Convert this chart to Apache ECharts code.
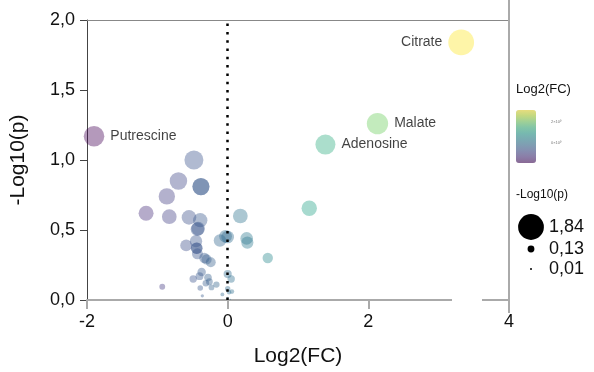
<!DOCTYPE html>
<html>
<head>
<meta charset="utf-8">
<script src="https://cdn.jsdelivr.net/npm/echarts@6/dist/echarts.min.js"></script>
<style>
  html, body { margin: 0; padding: 0; background: #fff; }
  #chart { width: 594px; height: 372px; }
</style>
</head>
<body>
<div id="chart"></div>
<script>
// metabolite volcano data: log2 fold change, -log10(p)
const names = ['Citrate', 'Malate', 'Adenosine', 'Putrescine'];
const labelFc = [3.32, 2.13, 1.39, -1.90];
const labelP = [1.84, 1.26, 1.11, 1.17];
const labelPos = ['left', 'right', 'right', 'right'];

const otherFc = [
    1.16, 0.57, -0.48, -0.70, -0.38, -0.38, -0.865, -1.16, -0.83, -0.55,
    -0.39, -0.42, -0.43, 0.18, 0.27, 0.28, -0.11, -0.03, 0.0, -0.59,
    -0.45, -0.44, -0.44, -0.43, -0.33, -0.30, -0.24, -0.37, -0.40, -0.49,
    -0.28, -0.26, -0.31, -0.16, -0.23, -0.39, -0.93, -0.36, -0.075, 0.0,
    0.05, 0.0, 0.02, 0.06, 0.0, 0.04
];
const otherP = [
    0.655, 0.30, 1.00, 0.85, 0.81, 0.81, 0.74, 0.62, 0.595, 0.59,
    0.57, 0.51, 0.505, 0.60, 0.44, 0.41, 0.425, 0.455, 0.45, 0.39,
    0.42, 0.37, 0.37, 0.33, 0.30, 0.29, 0.27, 0.20, 0.17, 0.15,
    0.16, 0.13, 0.12, 0.11, 0.09, 0.085, 0.095, 0.03, 0.04, 0.185,
    0.15, 0.08, 0.055, 0.06, 0.015, 0.005
];

const xTicks = [-2, 0, 2, 4];
const yTicks = [0, 0.5, 1.0, 1.5, 2.0];
const sizeLegend = [1.84, 0.13, 0.01];

// viridis, semi-transparent
const ALPHA = 0.5;
const viridis = ['#440154', '#482878', '#3e4989', '#31688e', '#26828e',
    '#1f9e89', '#35b779', '#6ece58', '#b5de2b', '#fde725'];
const rgba = (hex) => {
    const n = parseInt(hex.slice(1), 16);
    return `rgba(${n >> 16},${(n >> 8) & 255},${n & 255},${ALPHA})`;
};

const sizeOf = (p) => 19 * Math.sqrt(p);
const comma = (v, d) => v.toFixed(d).replace('.', ',');
const FONT = 'Liberation Sans';

const data = [];
otherFc.forEach((x, i) => data.push({ value: [x, otherP[i]] }));
names.forEach((n, i) => data.push({
    name: n,
    value: [labelFc[i], labelP[i]],
    label: { show: true, position: labelPos[i], formatter: n, distance: 6 }
}));

const chart = echarts.init(document.getElementById('chart'), null, { renderer: 'canvas' });

const legendX = 531;
const legendY = [227, 249, 269];
const graphics = [
    { type: 'line', z: 10, shape: { x1: 509, y1: 0, x2: 509, y2: 313 }, style: { stroke: '#aaa', lineWidth: 2 } },
    { type: 'rect', z: 10, shape: { x: 452, y: 297, width: 30, height: 8 }, style: { fill: '#fff' } },
    { type: 'text', z: 10, left: 516, top: 83, style: { text: 'Log2(FC)', font: `13px "${FONT}"`, fill: '#111' } },
    { type: 'text', z: 10, left: 551, top: 120, style: { text: '2×10⁰', font: `4px "${FONT}"`, fill: '#777' } },
    { type: 'text', z: 10, left: 551, top: 141, style: { text: '0×10⁰', font: `4px "${FONT}"`, fill: '#777' } },
    { type: 'text', z: 10, left: 516, top: 189, style: { text: '-Log10(p)', font: `12px "${FONT}"`, fill: '#111' } }
];
sizeLegend.forEach((v, i) => {
    graphics.push({ type: 'circle', z: 10, shape: { cx: legendX, cy: legendY[i], r: Math.max(sizeOf(v) / 2, 1) }, style: { fill: '#000' } });
    graphics.push({ type: 'text', z: 10, x: 549, y: legendY[i], style: { text: comma(v, 2), font: `18px "${FONT}"`, fill: '#111', verticalAlign: 'middle' } });
});

chart.setOption({
    animation: false,
    backgroundColor: '#fff',
    textStyle: { fontFamily: FONT },
    grid: { left: 85, right: 85, top: 20, bottom: 71 },
    xAxis: [{
        type: 'value',
        min: xTicks[0], max: xTicks[xTicks.length - 1], interval: 2,
        name: 'Log2(FC)', nameLocation: 'middle', nameGap: 46,
        nameTextStyle: { fontSize: 21, color: '#111', fontFamily: FONT },
        axisLine: { show: true, onZero: false, lineStyle: { color: '#aaa', width: 2 } },
        axisTick: { show: true, length: 9, lineStyle: { color: '#aaa', width: 2 } },
        axisLabel: { fontSize: 18, color: '#111', margin: 13, fontFamily: FONT },
        splitLine: { show: false }
    }, {
        type: 'value', position: 'top',
        min: xTicks[0], max: xTicks[xTicks.length - 1],
        axisLine: { show: true, onZero: false, lineStyle: { color: '#888', width: 1 } },
        axisTick: { show: false }, axisLabel: { show: false }, splitLine: { show: false }
    }],
    yAxis: {
        type: 'value',
        min: yTicks[0], max: yTicks[yTicks.length - 1], interval: 0.5,
        name: '-Log10(p)', nameLocation: 'middle', nameGap: 58, nameRotate: 90,
        nameTextStyle: { fontSize: 21, color: '#111', fontFamily: FONT },
        axisLine: { show: true, onZero: false, lineStyle: { color: '#444', width: 1 } },
        axisTick: { show: true, length: 7, lineStyle: { color: '#444' } },
        axisLabel: { fontSize: 18, color: '#111', margin: 12, fontFamily: FONT, formatter: (v) => comma(v, 1) },
        splitLine: { show: false }
    },
    visualMap: {
        type: 'continuous',
        dimension: 0,
        min: -1.8, max: 3.32,
        calculable: false,
        left: 516, top: 110,
        padding: 0,
        itemWidth: 20, itemHeight: 53,
        text: null,
        showLabel: false,
        inRange: { color: viridis.map(rgba) },
        seriesIndex: 0
    },
    series: [{
        type: 'scatter',
        data: data,
        symbolSize: (v) => sizeOf(v[1]),
        itemStyle: { borderWidth: 0 },
        label: { color: '#111', fontSize: 14, fontFamily: FONT },
        markLine: {
            silent: true,
            symbol: 'none',
            label: { show: false },
            lineStyle: { color: '#000', width: 2.5, type: [2.5, 5.8] },
            data: [{ xAxis: 0 }]
        }
    }],
    graphic: graphics
});
</script>
</body>
</html>
